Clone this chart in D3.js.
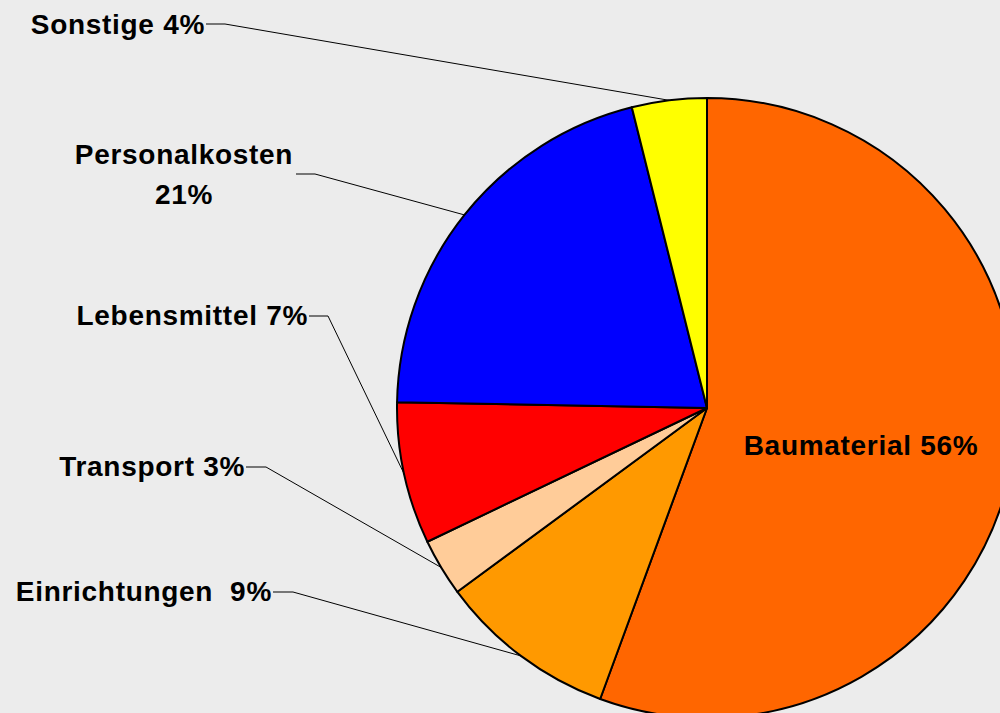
<!DOCTYPE html>
<html>
<head>
<meta charset="utf-8">
<script src="https://cdn.jsdelivr.net/npm/d3@7"></script>
<style>
  body { margin: 0; background: #ececec; }
  svg { display: block; }
  text { white-space: pre; }
</style>
</head>
<body>
<div id="chart"></div>
<script>
// data, clockwise from 12 o'clock
var categories = ["Baumaterial", "Einrichtungen", "Transport", "Lebensmittel", "Personalkosten", "Sonstige"];
var values = [55.6, 9.3, 3.0, 7.4, 20.8, 3.9];
var pctLabels = ["56%", "9%", "3%", "7%", "21%", "4%"];
var colors = ["#FF6600", "#FF9900", "#FFCC99", "#FF0000", "#0000FF", "#FFFF00"];

var width = 1000, height = 713;
var cx = 707, cy = 408, r = 310;

// hand placed label boxes (text anchor x, baseline y, leader elbow)
var labelPos = {
  "Baumaterial":    { x: 861, y: 455, anchor: "middle", inside: true },
  "Einrichtungen":  { x: 272, y: 601, anchor: "end", elbow: 293, ly: 592, sep: "  " },
  "Transport":      { x: 245, y: 476, anchor: "end", elbow: 266, ly: 467 },
  "Lebensmittel":   { x: 308, y: 325, anchor: "end", elbow: 328, ly: 316 },
  "Personalkosten": { x: 184, y: 164, anchor: "middle", elbow: 315, ly: 174, lx: 296, twoLine: true },
  "Sonstige":       { x: 205, y: 34, anchor: "end", elbow: 225, ly: 24 }
};

var svg = d3.select("#chart").append("svg")
  .attr("width", width).attr("height", height);

svg.append("rect").attr("width", width).attr("height", height).attr("fill", "#ececec");

var pie = d3.pie().sort(null).value(function(d) { return d; });
var arcs = pie(values);

var arc = d3.arc().innerRadius(0).outerRadius(r);
var edge = d3.arc().innerRadius(r).outerRadius(r);

var g = svg.append("g").attr("transform", "translate(" + cx + "," + cy + ")");

g.selectAll("path.slice")
  .data(arcs)
  .enter().append("path")
  .attr("class", "slice")
  .attr("d", arc)
  .attr("fill", function(d, i) { return colors[i]; })
  .attr("stroke", "#000")
  .attr("stroke-width", 2)
  .attr("stroke-linejoin", "round");

// leader lines
arcs.forEach(function(d, i) {
  var p = labelPos[categories[i]];
  if (p.inside) return;
  var c = edge.centroid(d);
  var startX = p.lx !== undefined ? p.lx : p.x + 1;
  svg.append("polyline")
    .attr("points", [[startX, p.ly], [p.elbow, p.ly], [cx + c[0], cy + c[1]]].map(function(q) { return q.join(","); }).join(" "))
    .attr("fill", "none")
    .attr("stroke", "#000")
    .attr("stroke-width", 1);
});

// labels
categories.forEach(function(name, i) {
  var p = labelPos[name];
  var t = svg.append("text")
    .attr("x", p.x).attr("y", p.y)
    .attr("text-anchor", p.anchor)
    .attr("xml:space", "preserve")
    .style("font-family", "'Liberation Sans', Arial, sans-serif")
    .style("font-weight", "bold")
    .style("font-size", "28px")
    .style("letter-spacing", "0.7px")
    .attr("fill", "#000");
  if (p.twoLine) {
    t.append("tspan").attr("x", p.x).text(name);
    t.append("tspan").attr("x", p.x).attr("dy", 40).text(pctLabels[i]);
  } else {
    t.text(name + (p.sep || " ") + pctLabels[i]);
  }
});
</script>
</body>
</html>
